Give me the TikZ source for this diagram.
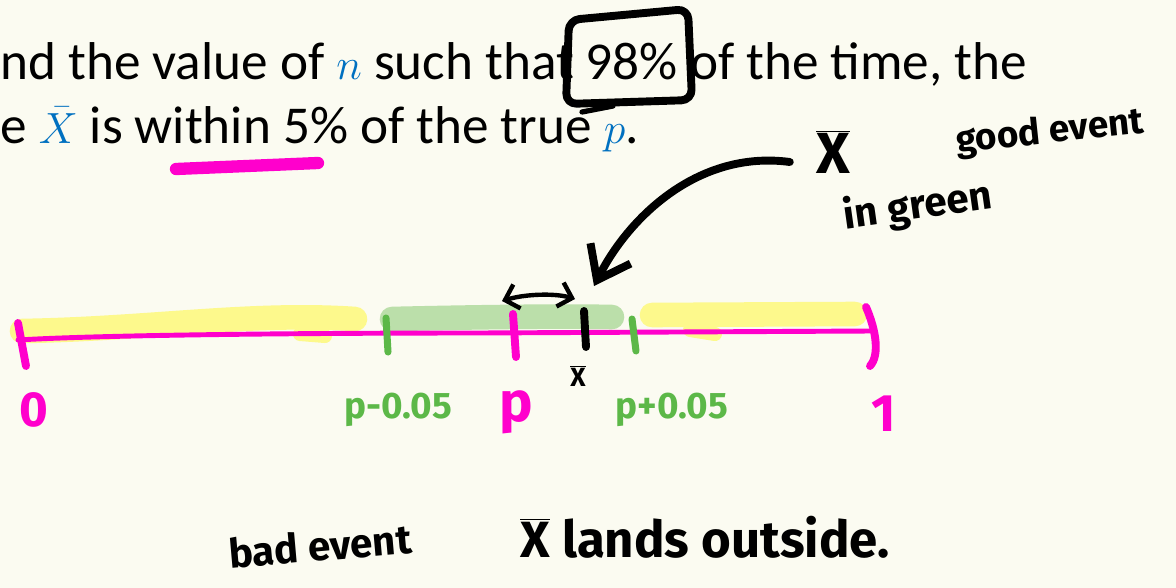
\documentclass[tikz,border=0pt]{standalone}
\usepackage{fontspec}
\setmainfont{Carlito}
\newfontfamily\handfont{Fira Sans}
\usetikzlibrary{arrows.meta}
\definecolor{paper}{HTML}{FBFBF1}
\definecolor{slideblue}{HTML}{0070C0}
\definecolor{pen}{HTML}{FF00CC}
\definecolor{greenpen}{HTML}{5CB848}
\definecolor{hlyellow}{HTML}{FDF98C}
\definecolor{hlgreen}{HTML}{BBDFAA}

\begin{document}
\begin{tikzpicture}[x=0.02cm, y=-0.02cm,
  slide/.style={inner sep=0pt, anchor=base west, font=\fontsize{30.3}{34}\selectfont},
  hand/.style={inner sep=0pt, font=\handfont\bfseries\fontsize{#1}{#1}\selectfont},
  hand/.default=20,
  ink/.style={line width=#1, line cap=round, line join=round},
  ink/.default=3.5pt,
  marker/.style={line width=14pt, line cap=round},
  barb/.style={-{Straight Barb[length=6mm, width=9mm]}}]
\fill[paper] (0,0) rectangle (1176,588);
\useasboundingbox (0,0) rectangle (1176,588);

% slide text
\node[slide] (line1) at (0,80) {nd the value of \textcolor{slideblue}{$n$} such that 98\% of the time, the};
\node[slide] (line2) at (0,143) {e \textcolor{slideblue}{$\bar{X}$} is within 5\% of the true \textcolor{slideblue}{$p$}.};

% highlights
\draw[marker, hlyellow] (22,331) .. controls (150,329) and (250,312) .. (355,319);
\draw[marker, hlyellow, line width=8pt] (300,334) -- (325,336);
\draw[marker, hlgreen] (392,319) .. controls (480,317) and (560,316) .. (612,317);
\draw[marker, hlyellow] (652,315) -- (855,314);
\draw[marker, hlyellow, line width=8pt] (690,330) -- (715,334);
\draw[pen, line width=7pt, line cap=round] (176,169) -- (318,163);

% number line
\coordinate (axisL) at (18,340);
\coordinate (axisR) at (872,331);
\draw[pen, line width=2.8pt, line cap=round] (axisL) .. controls (100,335) and (300,333) .. (480,333) -- (axisR);
\draw[ink=4.5pt, pen] (18,323) -- (26,366);
\draw[ink=4pt, greenpen] (386,318) -- (388,352);
\draw[ink=4.5pt, pen] (513,314) -- (516,357);
\draw[ink=4.5pt] (584,311) -- (586,347);
\draw[ink=4pt, greenpen] (632,319) -- (636,351);
\draw[ink=4.5pt, pen] (866,307) .. controls (876,330) and (880,355) .. (870,366);

% labels under the line
\node[hand=28, pen] (lab0) at (34,410) {0};
\node[hand=21, greenpen] (labLo) at (398,410) {p-0.05};
\node[hand=32, pen] (labP) at (516,412) {p};
\node[hand=21, greenpen] (labHi) at (672,410) {p+0.05};
\node[hand=30, pen] (lab1) at (884,414) {1};
\node[hand=15] (xbarTick) at (578,376) {$\overline{\mbox{X}}$};

% box round 98%
\draw[ink=4.5pt, rounded corners=6pt] (566,104) -- (569,20) -- (688,9) -- (692,100) -- cycle;
\draw[ink=3pt] (582,112) -- (613,106);

% notes
\node[hand=33] (xgood) at (833,152) {$\overline{\mbox{X}}$};
\node[hand=21, rotate=6] (goodEv) at (1050,133) {good event};
\node[hand=23, rotate=8] (inGreen) at (918,207) {in green};
\node[hand=23, rotate=5] (badEv) at (320,546) {bad event};
\node[hand=29] (landsOut) at (705,537) {$\overline{\mbox{X}}$ lands outside.};

% arrows
\coordinate (pTop) at (502,301);
\coordinate (xTop) at (575,299);
\coordinate (xArrowTip) at (594,286);
\draw[ink=2.5pt, {Straight Barb[length=2.5mm, width=5mm]}-{Straight Barb[length=2.5mm, width=5mm]}] (pTop) .. controls (525,294) and (555,293) .. (xTop);
\draw[ink=4.5pt, barb] ([shift={(-26,10)}]xgood.west) .. controls (700,150) and (630,215) .. (xArrowTip);
\end{tikzpicture}
\end{document}
